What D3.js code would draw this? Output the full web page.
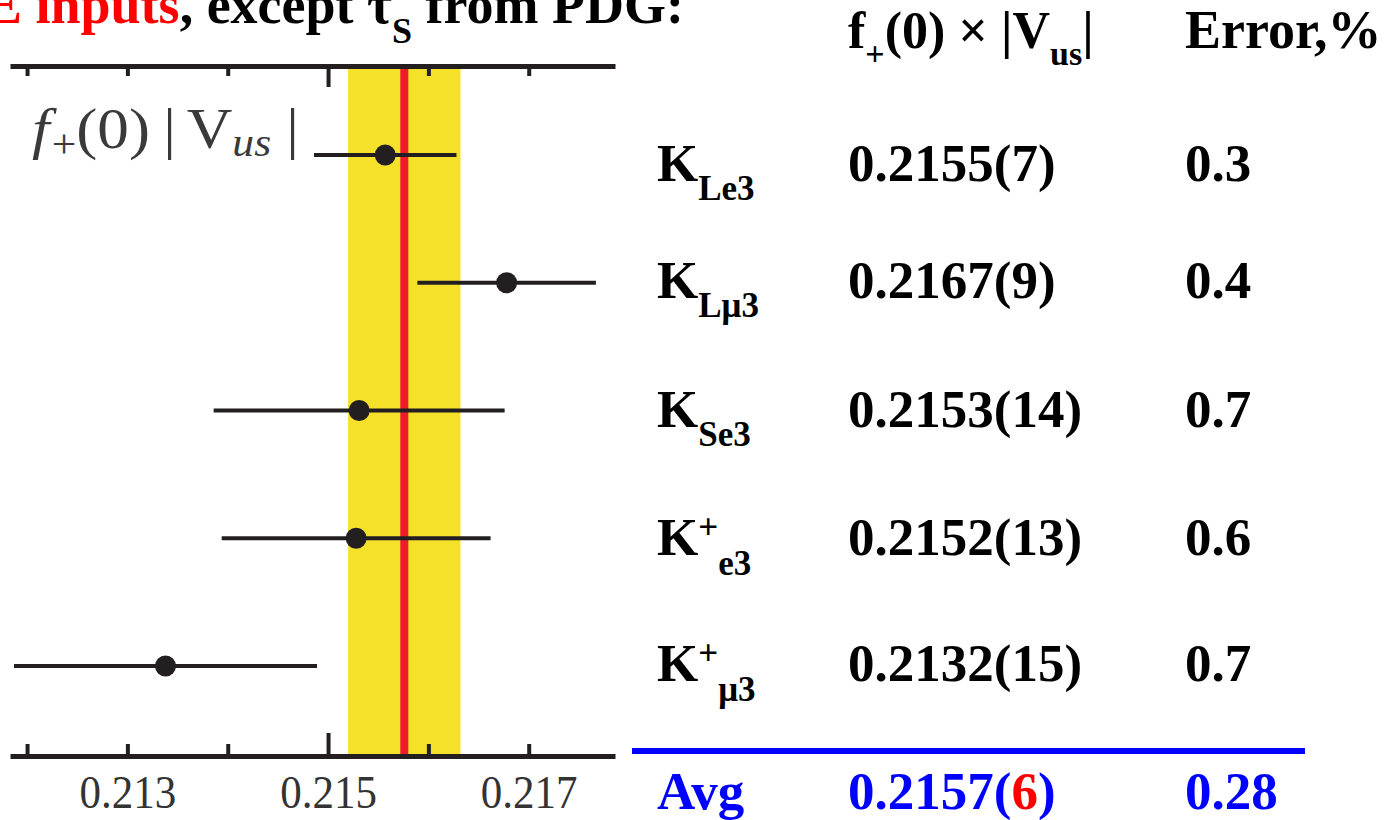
<!DOCTYPE html>
<html>
<head>
  <meta charset="utf-8">
  <title>f+(0)|Vus|</title>
  <style>
    body { margin: 0; background: #fff; }
  </style>
</head>
<body>
<script src="https://cdn.jsdelivr.net/npm/d3@7"></script>
<script>
// values
const rows = ["Le3", "Lmu3", "Se3", "Ke3", "Kmu3"];
const centers = [0.21557, 0.21678, 0.21531, 0.21528, 0.21338];
const errors = [0.00071, 0.00089, 0.00145, 0.00134, 0.00151];
const avgCenter = 0.21576;
const avgError = 0.00056;

const tickValues = [0.212, 0.213, 0.214, 0.215, 0.216, 0.217];
const tickLabels = [0.213, 0.215, 0.217];
const majorTick = 0.215;

// table on the right
const labelSup = ["", "", "", "+", "+"];
const labelSub = ["Le3", "Lμ3", "Se3", "e3", "μ3"];
const valueText = ["0.2155(7)", "0.2167(9)", "0.2153(14)", "0.2152(13)", "0.2132(15)"];
const errorText = ["0.3", "0.4", "0.7", "0.6", "0.7"];

const width = 1395, height = 820;
const serif = "'Liberation Serif', 'Times New Roman', serif";
// baselines of the table rows (layout only)
const tableBaseline = [181, 298, 427, 555, 681];

const svg = d3.select("body").append("svg")
  .attr("width", width)
  .attr("height", height);

const x = d3.scaleLinear().domain([0.21183, 0.21786]).range([10, 615]);
const y = d3.scalePoint().domain(rows).range([155, 666]);

const topY = 66, botY = 756;

// average band + line
svg.append("rect")
  .attr("x", x(avgCenter - avgError))
  .attr("y", topY)
  .attr("width", x(avgCenter + avgError) - x(avgCenter - avgError))
  .attr("height", botY - topY)
  .attr("fill", "#f5e12a");

svg.append("line")
  .attr("x1", x(avgCenter)).attr("x2", x(avgCenter))
  .attr("y1", topY).attr("y2", botY)
  .attr("stroke", "#ec1c2a")
  .attr("stroke-width", 8);

// axes
const fmt = d => tickLabels.includes(d) ? d3.format(".3f")(d) : "";

const gTop = svg.append("g")
  .attr("transform", `translate(0,${topY})`)
  .call(d3.axisTop(x).tickValues(tickValues).tickSizeInner(-10).tickSizeOuter(0).tickFormat(""));

const gBot = svg.append("g")
  .attr("transform", `translate(0,${botY})`)
  .call(d3.axisBottom(x).tickValues(tickValues).tickSizeInner(-12).tickSizeOuter(0).tickFormat(fmt));

[gTop, gBot].forEach(g => {
  g.select(".domain").attr("stroke", "#231f20").attr("stroke-width", 5);
  g.selectAll(".tick line").attr("stroke", "#231f20").attr("stroke-width", 4);
});
gTop.selectAll(".tick line").filter(d => d === majorTick).attr("y2", 21);
gBot.selectAll(".tick line").filter(d => d === majorTick).attr("y2", -23);
gBot.selectAll(".tick text")
  .attr("y", 48).attr("dy", null)
  .attr("font-family", serif)
  .attr("font-size", 43)
  .attr("transform", "scale(1,1.09)")
  .attr("fill", "#333");

// error bars
const pts = svg.append("g");
pts.selectAll("line")
  .data(rows)
  .join("line")
  .attr("x1", (d, i) => x(centers[i] - errors[i]))
  .attr("x2", (d, i) => x(centers[i] + errors[i]))
  .attr("y1", d => y(d)).attr("y2", d => y(d))
  .attr("stroke", "#231f20")
  .attr("stroke-width", 4);
pts.selectAll("circle")
  .data(rows)
  .join("circle")
  .attr("cx", (d, i) => x(centers[i]))
  .attr("cy", d => y(d))
  .attr("r", 10.5)
  .attr("fill", "#231f20");

// plot label f+(0)|Vus|
const lab = svg.append("text")
  .attr("transform", "translate(32,148) scale(1.09,1)")
  .attr("font-family", serif)
  .attr("font-size", 58)
  .attr("fill", "#3a3a3a");
lab.append("tspan").attr("font-style", "italic").text("f");
lab.append("tspan").attr("font-size", 40).attr("dx", 2).attr("dy", 9).text("+");
lab.append("tspan").attr("dy", -9).text("(0)");
lab.append("tspan").attr("dx", 12).text("|");
lab.append("tspan").attr("dx", 10).text("V");
lab.append("tspan").attr("font-size", 40).attr("font-style", "italic").attr("dy", 8).text("us");
lab.append("tspan").attr("dx", 14).attr("dy", -8).text("|");

// title (cut at the top, as in the original slide)
const title = svg.append("text")
  .attr("x", -14).attr("y", 23)
  .attr("font-family", serif)
  .attr("font-weight", "bold")
  .attr("font-size", 54);
title.append("tspan").attr("fill", "#ff0000").text("E inputs");
title.append("tspan").text(", except τ");
title.append("tspan").attr("font-size", 36).attr("dy", 20).text("S");
title.append("tspan").attr("dy", -20).text(" from PDG:");

// table header
const colLabel = 657, colValue = 848, colError = 1185;
const head = svg.append("text")
  .attr("x", colValue).attr("y", 48)
  .attr("font-family", serif)
  .attr("font-weight", "bold")
  .attr("font-size", 52);
head.append("tspan").text("f");
head.append("tspan").attr("font-size", 34).attr("dy", 17).text("+");
head.append("tspan").attr("dy", -17).text("(0) × |V");
head.append("tspan").attr("font-size", 34).attr("dy", 17).text("us");
head.append("tspan").attr("dy", -17).text("|");

svg.append("text")
  .attr("x", colError).attr("y", 48)
  .attr("font-family", serif)
  .attr("font-weight", "bold")
  .attr("font-size", 54)
  .text("Error,%");

// table rows
const tbl = svg.append("g")
  .attr("font-family", serif)
  .attr("font-weight", "bold")
  .attr("font-size", 53);

rows.forEach((r, i) => {
  const by = tableBaseline[i];
  const t = tbl.append("text").attr("x", colLabel).attr("y", by);
  t.append("tspan").text("K");
  if (labelSup[i]) {
    t.append("tspan").attr("font-size", 35).attr("dy", -16).text(labelSup[i]);
    t.append("tspan").attr("font-size", 35).attr("dy", 36).text(labelSub[i]);
  } else {
    t.append("tspan").attr("font-size", 35).attr("dy", 19).text(labelSub[i]);
  }
  tbl.append("text").attr("x", colValue).attr("y", by).text(valueText[i]);
  tbl.append("text").attr("x", colError).attr("y", by).text(errorText[i]);
});

// average row
svg.append("line")
  .attr("x1", 632).attr("x2", 1305)
  .attr("y1", 751).attr("y2", 751)
  .attr("stroke", "#0000ff")
  .attr("stroke-width", 6);

const avg = svg.append("g")
  .attr("font-family", serif)
  .attr("font-weight", "bold")
  .attr("font-size", 53)
  .attr("fill", "#0000ff");
avg.append("text").attr("x", colLabel).attr("y", 809).text("Avg");
const av = avg.append("text").attr("x", colValue).attr("y", 809);
av.append("tspan").text("0.2157(");
av.append("tspan").attr("fill", "#ff0000").text("6");
av.append("tspan").text(")");
avg.append("text").attr("x", colError).attr("y", 809).text("0.28");
</script>
</body>
</html>
